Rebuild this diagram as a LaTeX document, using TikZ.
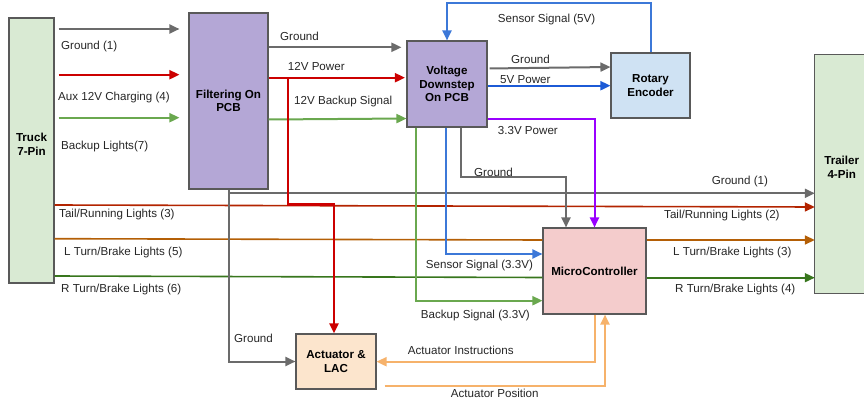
\documentclass[tikz,border=0pt]{standalone}
\usepackage{fontspec}
\setmainfont{Liberation Sans}
\usetikzlibrary{arrows.meta}
\definecolor{cgray}{HTML}{6B6B6B}
\definecolor{cborder}{HTML}{595959}
\definecolor{cred}{HTML}{CC0000}
\definecolor{ctail}{HTML}{B32400}
\definecolor{cgreen}{HTML}{6AA84F}
\definecolor{cdgreen}{HTML}{38761D}
\definecolor{cblue}{HTML}{3C78D8}
\definecolor{cdblue}{HTML}{1C5AD6}
\definecolor{cpurple}{HTML}{9900FF}
\definecolor{corange}{HTML}{B45F06}
\definecolor{cact}{HTML}{F6B26B}
\definecolor{fgreen}{HTML}{D9EAD3}
\definecolor{fpurple}{HTML}{B4A7D6}
\definecolor{fblue}{HTML}{CFE2F3}
\definecolor{fpink}{HTML}{F4CCCC}
\definecolor{forange}{HTML}{FCE5CD}
\begin{document}
\begin{tikzpicture}[x=1pt,y=-1pt,
  box/.style={draw=cborder, line width=1.1pt, inner sep=0pt, align=center,
    font=\fontsize{11.6}{13.6}\selectfont\bfseries},
  btxt/.style={inner sep=0pt, align=center, font=\fontsize{11.6}{13.6}\selectfont\bfseries},
  wire/.style={line width=2pt},
  lwire/.style={line width=1.6pt},
  arr/.style={-{Triangle[length=10pt,width=9pt]}},
  lbl/.style={inner sep=0pt, anchor=west, text=black!85,
    font=\fontsize{11.6}{13.6}\selectfont}]
\useasboundingbox (0,0) rectangle (864,404);
\clip (0,0) rectangle (864,404);
% boxes
\node[box, fill=fgreen, minimum width=45pt, minimum height=265pt] (truck) at (31.5,150.5) {};
\node[btxt] (trucktxt) at (31.5,144) {Truck\\7-Pin};
\node[box, fill=fpurple, minimum width=79pt, minimum height=176pt] (filt) at (228.5,101) {Filtering On\\PCB};
\node[box, fill=fpurple, minimum width=80pt, minimum height=86pt] (vd) at (447,84) {Voltage\\Downstep\\On PCB};
\node[box, fill=fblue, minimum width=79pt, minimum height=65pt] (rot) at (650.5,85.5) {Rotary\\Encoder};
\node[box, fill=fpink, minimum width=103pt, minimum height=86pt] (mcu) at (594.5,271) {MicroController};
\node[box, fill=forange, minimum width=80pt, minimum height=55pt] (act) at (336,361.5) {Actuator \&\\LAC};
\node[fill=fgreen, inner sep=0pt, minimum width=70pt, minimum height=238pt] (trail) at (850,174) {};
\draw[draw=cborder, line width=1.1pt] (trail.north east) -- (trail.north west) -- (trail.south west) -- (trail.south east);
\node[btxt] (trailtxt) at (841.7,167.3) {Trailer\\4-Pin};
% truck -> filtering
\draw[wire, arr, cgray, shorten <=4pt, shorten >=9pt] (truck.east |- 0,29) -- (filt.west |- 0,29);
\draw[wire, arr, cred, shorten <=4pt, shorten >=9pt] (truck.east |- 0,74.7) -- (filt.west |- 0,74.7);
\draw[wire, arr, cgreen, shorten <=4pt, shorten >=9pt] (truck.east |- 0,117.7) -- (filt.west |- 0,117.7);
\node[lbl] (l1) at (61,46.7) {Ground (1)};
\node[lbl] (l2) at (58,97.7) {Aux 12V Charging (4)};
\node[lbl] (l3) at (61,146.7) {Backup Lights(7)};
% light lines truck -> mcu / trailer
\draw[lwire, arr, ctail] (truck.east |- 0,205) -- (trail.west |- 0,207);
\draw[lwire, corange] (truck.east |- 0,238.7) -- (mcu.west |- 0,240);
\draw[lwire, cdgreen] (truck.east |- 0,276) -- (mcu.west |- 0,277.5);
\draw[lwire, arr, corange] (mcu.east |- 0,240) -- (trail.west |- 0,240);
\draw[lwire, arr, cdgreen] (mcu.east |- 0,277.7) -- (trail.west |- 0,277.7);
\node[lbl] (l4) at (59,214.3) {Tail/Running Lights (3)};
\node[lbl] (l5) at (64,252) {L Turn/Brake Lights (5)};
\node[lbl] (l6) at (61,289.3) {R Turn/Brake Lights (6)};
\node[lbl] (l7) at (664,215) {Tail/Running Lights (2)};
\node[lbl] (l8) at (673,252) {L Turn/Brake Lights (3)};
\node[lbl] (l9) at (675,289.3) {R Turn/Brake Lights (4)};
% filtering -> vd
\draw[wire, arr, cgray, shorten >=5pt] (filt.east |- 0,47.3) -- (vd.west |- 0,47.3);
\draw[wire, arr, cred, shorten >=1.5pt] (filt.east |- 0,77.7) -- (vd.west |- 0,77.7);
\draw[wire, arr, cgreen] (filt.east |- 0,119.5) -- (vd.west |- 0,118.5);
\node[lbl] (l10) at (280,36.7) {Ground};
\node[lbl] (l11) at (287.7,66.7) {12V Power};
\node[lbl] (l12) at (294,101.7) {12V Backup Signal};
% ground from filtering
\draw[wire, arr, cgray] (filt.south) |- (act.west);
\draw[wire, arr, cgray] (filt.south |- 0,193.3) -- (trail.west |- 0,193.3);
\node[lbl] (l13) at (234,338.7) {Ground};
\node[lbl] (l14) at (711.7,181.7) {Ground (1)};
% 12V branch to actuator
\coordinate (jr) at (288,77.7);
\draw[line width=2.4pt, arr, cred] (jr) -- (288,204.5) -| ([xshift=-2pt]act.north);
% vd -> rotary
\draw[wire, arr, cgray, shorten <=2pt] (vd.east |- 0,68.5) -- (rot.west |- 0,67);
\draw[wire, arr, cdblue] (vd.east |- 0,85.7) -- (rot.west |- 0,85.7);
\node[lbl] (l15) at (511,59.3) {Ground};
\node[lbl] (l16) at (500,80) {5V Power};
\draw[wire, arr, cblue] (rot.north) -- ++(0,-49) -| (vd.north);
\node[lbl] (l17) at (497.7,20) {Sensor Signal (5V)};
% vd -> mcu
\draw[wire, arr, cpurple] (vd.east |- 0,119) -| (mcu.north);
\node[lbl] (l18) at (497.7,131) {3.3V Power};
\draw[wire, arr, cgray] (vd.south -| 461.3,0) |- (566,177.3) -- (mcu.north -| 566,0);
\node[lbl] (l19) at (474,172) {Ground};
\draw[wire, arr, cblue] (vd.south -| 446,0) |- (mcu.west |- 0,254);
\node[lbl] (l20) at (425.7,265) {Sensor Signal (3.3V)};
\draw[wire, arr, cgreen] (vd.south -| 416,0) |- (mcu.west |- 0,300.7);
\node[lbl] (l21) at (420.7,315) {Backup Signal (3.3V)};
% mcu <-> actuator
\draw[wire, arr, cact] (mcu.south -| 595,0) |- (act.east |- 0,361.7);
\node[lbl] (l22) at (407.7,350) {Actuator Instructions};
\draw[wire, arr, cact] ([xshift=8pt]act.east |- 0,385.7) -| (mcu.south -| 605,0);
\node[lbl] (l23) at (450.7,393.3) {Actuator Position};
\end{tikzpicture}
\end{document}
